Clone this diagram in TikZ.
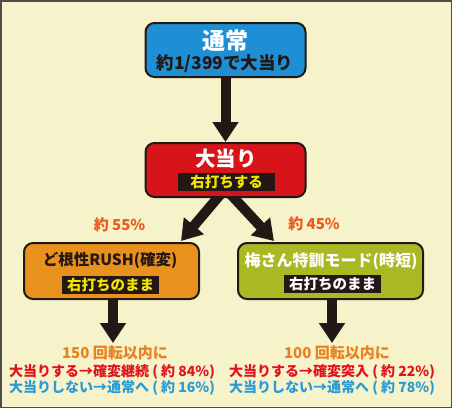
\documentclass[tikz,border=0pt]{standalone}
\usepackage{fontspec}
\setmainfont{Noto Sans CJK JP}
\usetikzlibrary{arrows.meta}
\definecolor{bgc}{HTML}{F6F2CA}
\definecolor{bluec}{HTML}{1E8FD5}
\definecolor{redc}{HTML}{D7141A}
\definecolor{orangec}{HTML}{E8911C}
\definecolor{greenc}{HTML}{A9B924}
\definecolor{bandc}{HTML}{231815}
\definecolor{yellowc}{HTML}{F2E600}
\definecolor{pctc}{HTML}{E95A20}
\definecolor{ltorange}{HTML}{E8821E}
\definecolor{txtred}{HTML}{E0141E}
\definecolor{txtblue}{HTML}{2A9BD5}
\newcommand\myfs[1]{\fontsize{#1}{#1}\selectfont\bfseries}
\pgfdeclarelayer{backlayer}
\pgfdeclarelayer{arrowlayer}
\pgfsetlayers{backlayer,arrowlayer,main}
\begin{document}
\begin{tikzpicture}[x=1pt,y=-1pt,
  box/.style={draw=bandc, line width=2pt, rounded corners=9pt, inner sep=0pt},
  band/.style={fill=bandc, inner sep=0pt, minimum height=18pt, font=\myfs{14.5}},
  lbl/.style={inner sep=0pt},
  bigarrow/.style={line width=10pt, draw=bandc, -{Triangle[width=25pt,length=20pt]}}]
\begin{pgfonlayer}{backlayer}
\fill[bgc] (0,0) rectangle (452,408);
\draw[black!70, line width=1.5pt] (0.75,0.75) rectangle (451.25,407.25);
\end{pgfonlayer}
\useasboundingbox (0,0) rectangle (452,408);
% boxes
\node[box, fill=bluec, minimum width=160pt, minimum height=54pt] (top) at (225.5,50) {};
\node[box, fill=redc, minimum width=160pt, minimum height=54pt] (hit) at (225.5,170) {};
\node[box, fill=orangec, minimum width=175pt, minimum height=56pt] (rush) at (111.5,271) {};
\node[box, fill=greenc, minimum width=185pt, minimum height=56pt] (ume) at (330.5,271) {};
% texts
\node[lbl, font=\myfs{23}, text=white] (t1) at (225.5,41) {通常};
\node[lbl, font=\myfs{17.5}, text=bandc] (t2) at (225,64) {約1/399で大当り};
\node[lbl, font=\myfs{20.5}, text=white] (r1) at (226,159) {大当り};
\node[band, minimum width=97pt, text=yellowc] (r2) at (226.5,181.5) {右打ちする};
\node[lbl, font=\myfs{15.5}, text=bandc] (o1) at (110,260) {ど根性RUSH(確変)};
\node[band, minimum width=97pt, text=yellowc] (o2) at (110.5,284.5) {右打ちのまま};
\node[lbl, font=\myfs{16}, text=white] (g1) at (331,261) {梅さん特訓モード(時短)};
\node[band, minimum width=97pt, text=white] (g2) at (332.5,284) {右打ちのまま};
\node[lbl, font=\myfs{15}, text=pctc] (p1) at (119.5,225) {約 55\%};
\node[lbl, font=\myfs{15}, text=pctc] (p2) at (314,224) {約 45\%};
\node[lbl, font=\myfs{15}, text=ltorange] (l1) at (115,353) {150 回転以内に};
\node[lbl, font=\myfs{14}, text=txtred, anchor=west] (l2) at (9,372) {大当りする→確変継続 ( 約 84\%)};
\node[lbl, font=\myfs{14}, text=txtblue, anchor=west] (l3) at (9,388) {大当りしない→通常へ ( 約 16\%)};
\node[lbl, font=\myfs{15}, text=ltorange] (m1) at (337,353) {100 回転以内に};
\node[lbl, font=\myfs{14}, text=txtred, anchor=west] (m2) at (229,372) {大当りする→確変突入 ( 約 22\%)};
\node[lbl, font=\myfs{14}, text=txtblue, anchor=west] (m3) at (229,388) {大当りしない→通常へ ( 約 78\%)};
% arrows
\coordinate (ltip) at (113,343);
\coordinate (rtip) at (332,343);
\begin{pgfonlayer}{arrowlayer}
\draw[bigarrow] ([yshift=5pt]top.south) -- (hit.north);
\draw[bigarrow] ([xshift=-3pt,yshift=6pt]hit.south) -- ([xshift=-19pt,yshift=1pt]rush.north east);
\draw[bigarrow] ([xshift=3pt,yshift=6pt]hit.south) -- ([xshift=37pt,yshift=1pt]ume.north west);
\draw[bigarrow] ([yshift=5pt]rush.south -| ltip) -- (ltip);
\draw[bigarrow] ([yshift=5pt]ume.south -| rtip) -- (rtip);
\end{pgfonlayer}
\end{tikzpicture}
\end{document}
